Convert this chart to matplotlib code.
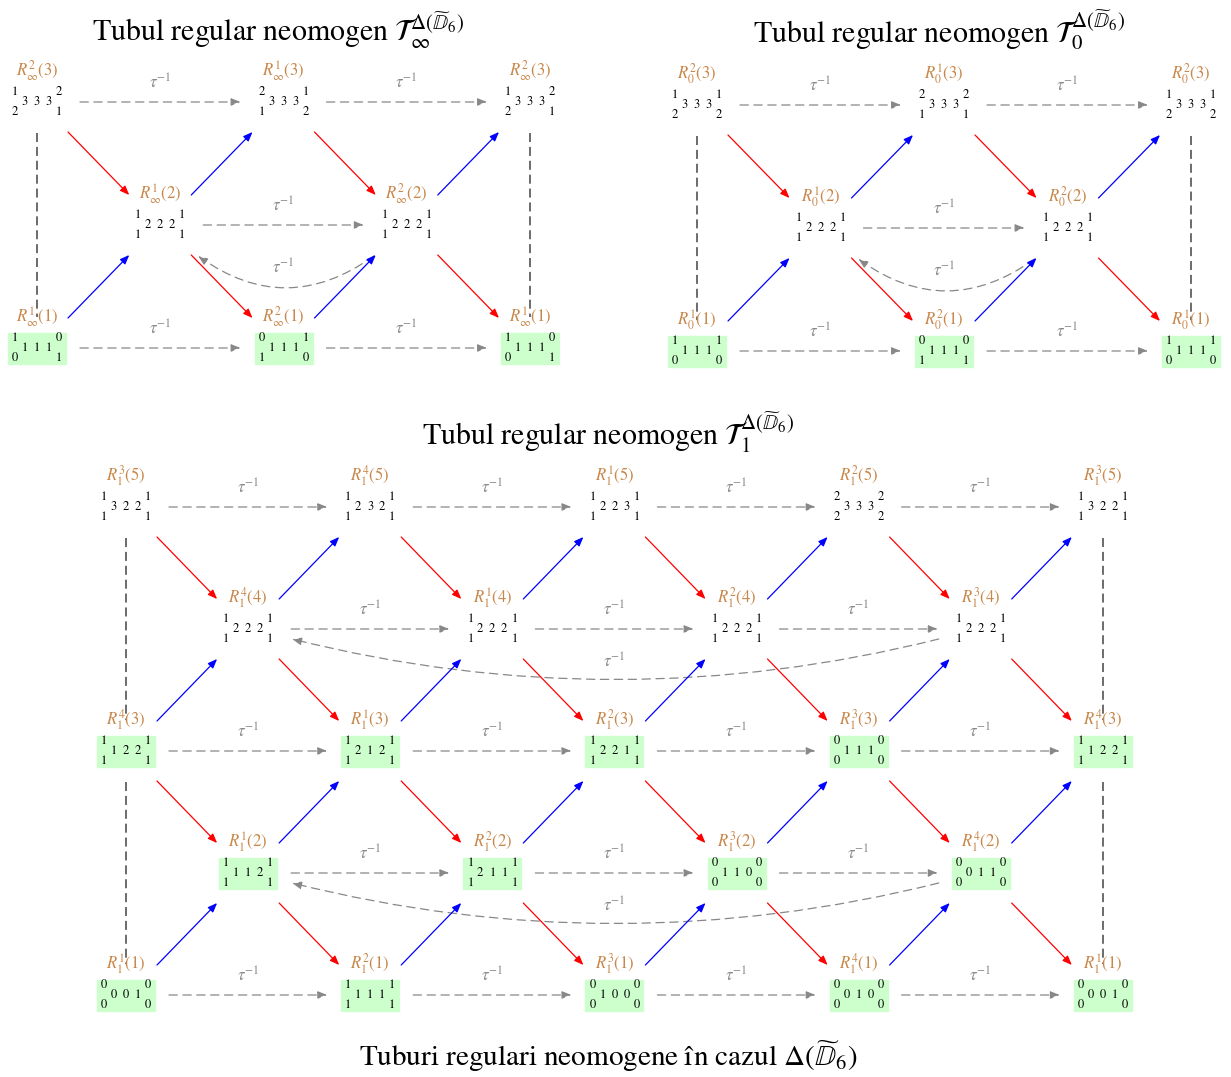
import matplotlib
matplotlib.use("Agg")
import matplotlib.pyplot as plt
from matplotlib.patches import FancyArrowPatch, Rectangle

plt.rcParams['mathtext.fontset'] = 'stix'
plt.rcParams['font.family'] = 'STIXGeneral'
plt.rcParams['lines.scale_dashes'] = False

# dimension vectors: (top-left, bottom-left, mid1, mid2, mid3, top-right, bottom-right)
# panel T_inf
inf_r3_sup = [2, 1, 2]
inf_r3_dim = [(1, 2, 3, 3, 3, 2, 1), (2, 1, 3, 3, 3, 1, 2), (1, 2, 3, 3, 3, 2, 1)]
inf_r2_sup = [1, 2]
inf_r2_dim = [(1, 1, 2, 2, 2, 1, 1), (1, 1, 2, 2, 2, 1, 1)]
inf_r1_sup = [1, 2, 1]
inf_r1_dim = [(1, 0, 1, 1, 1, 0, 1), (0, 1, 1, 1, 1, 1, 0), (1, 0, 1, 1, 1, 0, 1)]

# panel T_0
zero_r3_sup = [2, 1, 2]
zero_r3_dim = [(1, 2, 3, 3, 3, 1, 2), (2, 1, 3, 3, 3, 2, 1), (1, 2, 3, 3, 3, 1, 2)]
zero_r2_sup = [1, 2]
zero_r2_dim = [(1, 1, 2, 2, 2, 1, 1), (1, 1, 2, 2, 2, 1, 1)]
zero_r1_sup = [1, 2, 1]
zero_r1_dim = [(1, 0, 1, 1, 1, 1, 0), (0, 1, 1, 1, 1, 0, 1), (1, 0, 1, 1, 1, 1, 0)]

# panel T_1
one_r5_sup = [3, 4, 1, 2, 3]
one_r5_dim = [(1, 1, 3, 2, 2, 1, 1), (1, 1, 2, 3, 2, 1, 1), (1, 1, 2, 2, 3, 1, 1),
              (2, 2, 3, 3, 3, 2, 2), (1, 1, 3, 2, 2, 1, 1)]
one_r4_sup = [4, 1, 2, 3]
one_r4_dim = [(1, 1, 2, 2, 2, 1, 1)] * 4
one_r3_sup = [4, 1, 2, 3, 4]
one_r3_dim = [(1, 1, 1, 2, 2, 1, 1), (1, 1, 2, 1, 2, 1, 1), (1, 1, 2, 2, 1, 1, 1),
              (0, 0, 1, 1, 1, 0, 0), (1, 1, 1, 2, 2, 1, 1)]
one_r2_sup = [1, 2, 3, 4]
one_r2_dim = [(1, 1, 1, 1, 2, 1, 1), (1, 1, 2, 1, 1, 1, 1), (0, 0, 1, 1, 0, 0, 0),
              (0, 0, 0, 1, 1, 0, 0)]
one_r1_sup = [1, 2, 3, 4, 1]
one_r1_dim = [(0, 0, 0, 0, 1, 0, 0), (1, 1, 1, 1, 1, 1, 1), (0, 0, 1, 0, 0, 0, 0),
              (0, 0, 0, 1, 0, 0, 0), (0, 0, 0, 0, 1, 0, 0)]

ORANGE = '#C8874A'
GRAY = '#888888'
GREEN = '#CCFFCC'
HEAD = '-|>,head_length=0.55,head_width=0.22'

fig = plt.figure(figsize=(12.31, 10.77), dpi=100)
ax = fig.add_axes([0, 0, 1, 1])
ax.set_xlim(0, 1231)
ax.set_ylim(1077, 0)
ax.axis('off')


def arrow(p, q, color, ls='-', rad=0.0, lw=0.9):
    a = FancyArrowPatch(p, q, arrowstyle=HEAD, mutation_scale=10, color=color,
                        lw=lw, linestyle=ls, shrinkA=0, shrinkB=0,
                        connectionstyle='arc3,rad=%g' % rad, zorder=2)
    ax.add_patch(a)


def node(x, y, label, dim, green):
    if green:
        ax.add_patch(Rectangle((x - 29, y - 15.5), 58, 31, color=GREEN, zorder=1))
    ax.text(x, y - 31, label, color=ORANGE, fontsize=12, ha='center', va='center', zorder=3)
    spots = [(-22, -10), (-22, 10), (-12, 0), (0, 0), (12, 0), (22, -10), (22, 10)]
    for (ox, oy), v in zip(spots, dim):
        ax.text(x + ox, y + oy, str(v), fontsize=9, ha='center', va='center', zorder=3)


def panel(rows, sub, x0, dx, ytop, dy, green_rows, curve_rows, curve):
    rad, cy, cx1, cx2, ly = curve
    rmax = max(r for r, _, _ in rows)
    pos = {}
    for r, sups, dims in rows:
        start = (r + 1) % 2
        y = ytop + (rmax - r) * dy
        for k, (s, d) in enumerate(zip(sups, dims)):
            c = start + 2 * k
            x = x0 + c * dx
            pos[(c, r)] = (x, y)
            node(x, y, r'$R_{%s}^{%d}(%d)$' % (sub, s, r), d, r in green_rows)
    ncol = max(c for c, _ in pos) + 1
    # tau^{-1} horizontal arrows
    for r, sups, dims in rows:
        cols = sorted(c for c, rr in pos if rr == r)
        for c1, c2 in zip(cols[:-1], cols[1:]):
            (x1, y1), (x2, y2) = pos[(c1, r)], pos[(c2, r)]
            arrow((x1 + 43, y1), (x2 - 43, y2), GRAY, ls=(0, (6, 4)))
            ax.text((x1 + x2) / 2, y1 - 19, r'$\tau^{-1}$', color=GRAY, fontsize=12,
                    ha='center', va='center')
        if r in curve_rows:
            (x1, y1), (x2, y2) = pos[(cols[-1], r)], pos[(cols[0], r)]
            arrow((x1 - cx1, y1 + cy), (x2 + cx2, y2 + cy), GRAY, ls=(0, (6, 4)), rad=rad)
            ax.text((x1 + x2) / 2, y1 + ly, r'$\tau^{-1}$', color=GRAY, fontsize=12,
                    ha='center', va='center')
    # red / blue arrows
    for (c, r), (x, y) in pos.items():
        if (c + 1, r - 1) in pos:
            x2, y2 = pos[(c + 1, r - 1)]
            arrow((x + 31, y + 30), (x2 - 31, y2 - 30), 'red')
        if (c + 1, r + 1) in pos:
            x2, y2 = pos[(c + 1, r + 1)]
            arrow((x + 31, y - 30), (x2 - 31, y2 + 30), 'blue')
    # identification lines on the borders
    edge_rows = sorted([r for r, _, _ in rows if (r + 1) % 2 == 0], reverse=True)
    for c in (0, ncol - 1):
        for r1, r2 in zip(edge_rows[:-1], edge_rows[1:]):
            x, y1 = pos[(c, r1)]
            _, y2 = pos[(c, r2)]
            ax.plot([x, x], [y1 + 31, y2 - 31], color='#444444', lw=1.1,
                    dashes=(6.5, 3.5), zorder=0)


panel([(3, inf_r3_sup, inf_r3_dim), (2, inf_r2_sup, inf_r2_dim), (1, inf_r1_sup, inf_r1_dim)],
      r'\infty', 37, 123.25, 102, 123, [1], [2], (-0.36, 31, 33, 38, 43))
panel([(3, zero_r3_sup, zero_r3_dim), (2, zero_r2_sup, zero_r2_dim), (1, zero_r1_sup, zero_r1_dim)],
      '0', 697, 123.5, 105, 123, [1], [2], (-0.36, 31, 33, 38, 43))
panel([(5, one_r5_sup, one_r5_dim), (4, one_r4_sup, one_r4_dim), (3, one_r3_sup, one_r3_dim),
       (2, one_r2_sup, one_r2_dim), (1, one_r1_sup, one_r1_dim)],
      '1', 126, 122.1, 507, 122, [3, 2, 1], [4, 2], (-0.125, 10, 42, 44, 33))

delta = r'\Delta(\widetilde{\mathbb{D}}_6)'
ax.text(278, 30, r'Tubul regular neomogen $\mathcal{T}_{\infty}^{%s}$' % delta,
        fontsize=21.5, ha='center', va='center')
ax.text(939, 30, r'Tubul regular neomogen $\mathcal{T}_{0}^{%s}$' % delta,
        fontsize=21.5, ha='center', va='center')
ax.text(608, 432, r'Tubul regular neomogen $\mathcal{T}_{1}^{%s}$' % delta,
        fontsize=21.5, ha='center', va='center')
ax.text(608, 1056, r'Tuburi regulari neomogene în cazul $%s$' % delta,
        fontsize=21, ha='center', va='center')

fig.savefig('out.png', dpi=100)
